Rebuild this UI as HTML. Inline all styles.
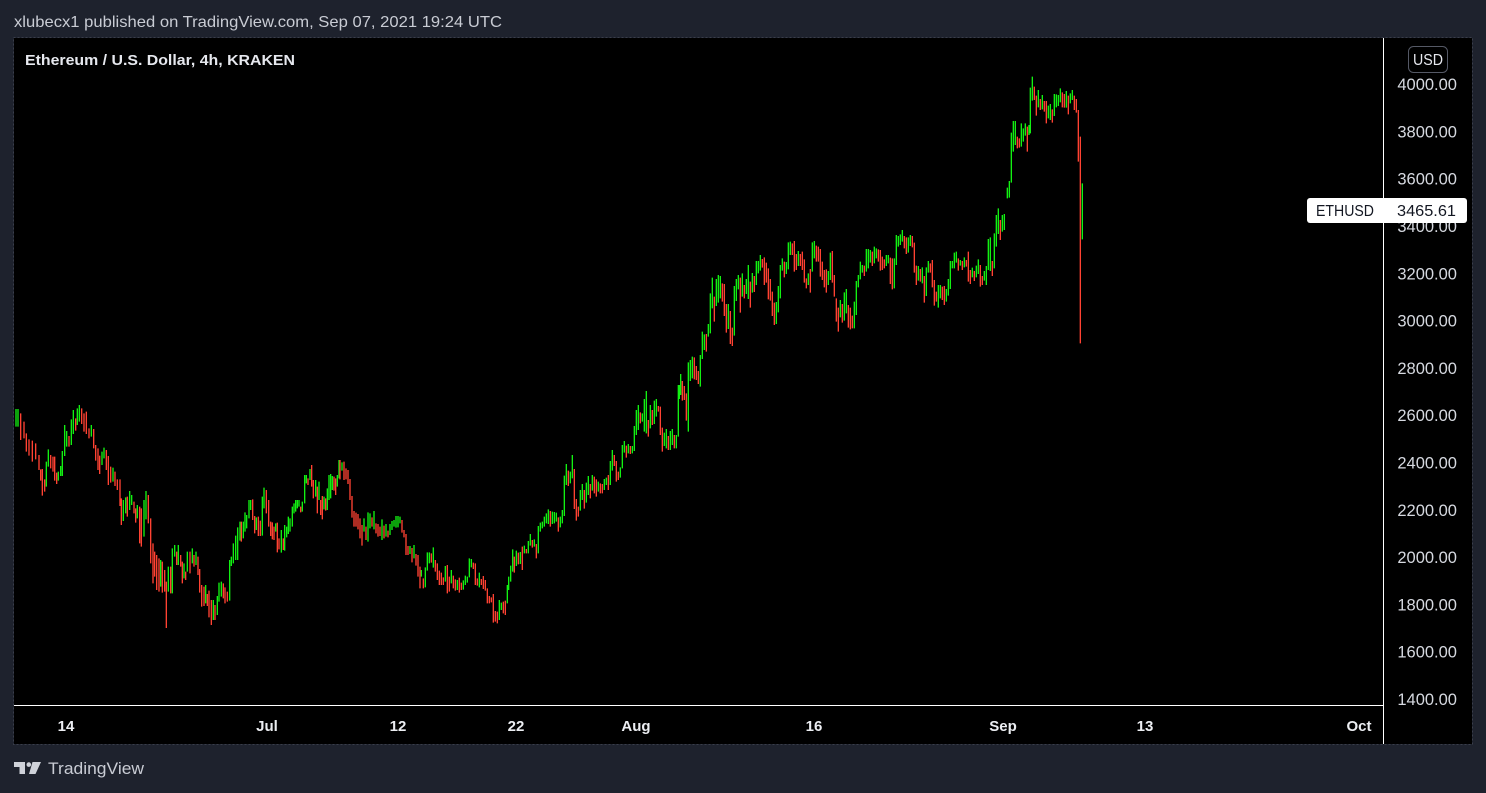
<!DOCTYPE html>
<html>
<head>
<meta charset="utf-8">
<style>
html,body{margin:0;padding:0;background:#1e222d;}
svg{display:block;}
text{font-family:"Liberation Sans",Arial,sans-serif;}
</style>
</head>
<body>
<svg id="s" width="1486" height="793" viewBox="0 0 1486 793" xmlns="http://www.w3.org/2000/svg">
  <rect x="0" y="0" width="1486" height="793" fill="#1e222d"/>
  <rect x="14" y="38" width="1458" height="706" fill="#000"/>
  <rect x="13.5" y="37.5" width="1459" height="707" fill="none" stroke="#3a3e4a" stroke-width="1" stroke-dasharray="2,2"/>

  <text x="14" y="27" font-size="16" fill="#c9ccd4" textLength="488" lengthAdjust="spacingAndGlyphs">xlubecx1 published on TradingView.com, Sep 07, 2021 19:24 UTC</text>
  <text x="25" y="65" font-size="15" font-weight="bold" fill="#e6e8ee" textLength="270" lengthAdjust="spacingAndGlyphs">Ethereum / U.S. Dollar, 4h, KRAKEN</text>

  <g id="bars">
    <path id="pg" d="" stroke="#12f012" stroke-width="1.35" fill="none"/>
    <path id="pr" d="" stroke="#ff4232" stroke-width="1.35" fill="none"/>
  </g>

  <!-- axes -->
  <line x1="1383.5" y1="38" x2="1383.5" y2="744" stroke="#ffffff" stroke-width="1"/>
  <line x1="14" y1="705.5" x2="1383" y2="705.5" stroke="#ffffff" stroke-width="1"/>

  <!-- price labels -->
  <g font-size="16.5" fill="#d6d9e0" text-anchor="end">
    <text x="1457" y="90">4000.00</text>
    <text x="1457" y="137.4">3800.00</text>
    <text x="1457" y="184.7">3600.00</text>
    <text x="1457" y="232">3400.00</text>
    <text x="1457" y="279.3">3200.00</text>
    <text x="1457" y="326.6">3000.00</text>
    <text x="1457" y="373.9">2800.00</text>
    <text x="1457" y="421.2">2600.00</text>
    <text x="1457" y="468.5">2400.00</text>
    <text x="1457" y="515.8">2200.00</text>
    <text x="1457" y="563.1">2000.00</text>
    <text x="1457" y="610.4">1800.00</text>
    <text x="1457" y="657.7">1600.00</text>
    <text x="1457" y="705">1400.00</text>
  </g>

  <!-- USD box -->
  <rect x="1408.5" y="46.5" width="39" height="26" rx="5" ry="5" fill="#000" stroke="#555966" stroke-width="1"/>
  <text x="1413" y="65" font-size="16" fill="#e6e8ee" textLength="30" lengthAdjust="spacingAndGlyphs">USD</text>

  <!-- ETHUSD label -->
  <rect x="1307" y="198" width="160" height="25" rx="3" ry="3" fill="#ffffff"/>
  <text x="1316" y="216" font-size="16" fill="#131722" textLength="58" lengthAdjust="spacingAndGlyphs">ETHUSD</text>
  <text x="1397" y="216" font-size="16" fill="#131722" textLength="59" lengthAdjust="spacingAndGlyphs">3465.61</text>

  <!-- date labels -->
  <g font-size="15" font-weight="bold" fill="#eceef2" text-anchor="middle">
    <text x="66" y="731">14</text>
    <text x="267" y="731">Jul</text>
    <text x="398" y="731">12</text>
    <text x="516" y="731">22</text>
    <text x="636" y="731">Aug</text>
    <text x="814" y="731">16</text>
    <text x="1003" y="731">Sep</text>
    <text x="1145" y="731">13</text>
    <text x="1359" y="731">Oct</text>
  </g>

  <!-- footer logo -->
  <g fill="#cfd2d9">
    <path d="M14 762 H25 V774 H19.5 V767 H14 Z"/>
    <circle cx="28.8" cy="764.6" r="2.3"/>
    <polygon points="32.5,762 41,762 35.5,774 29,774"/>
  </g>
  <text x="48" y="774" font-size="17" fill="#c9ccd4" textLength="96" lengthAdjust="spacingAndGlyphs">TradingView</text>
</svg>

<script>
(function(){
var segs=[
{ox:14,oy:390,d:"6,57,110;12,57,110;20,70,150;30,95,145;37,130,185;45,148,197;55,152,215;65,160,208;75,195,240;80,238,272;85,237,317;92,268,305;97,215,290;103,178,230;110,195,235;117,200,245;122,200,272;128,248,282;133,245,272;140,228,258;145,183,258;152,105,198;158,123,170;165,138,170;172,88,165;178,60,132;185,85,122;190,55,105;196,45,95;203,55,102;210,70,125;217,65,132;225,115,145;232,105,140;239,117,175;245,165,212;252,175,240;257,197,252;264,185,225;270,173,205;277,180,240;283,198,285;290,230,278;297,233,275;303,245,288;310,268,300;318,268,348;322,325,405;328,330,393;335,322,370;340,320,380;347,303,360;353,315,345;360,335,370;365,355,398;370,345,385;377,350,460;382,355,470;390,330,440;396,303,388;403,315,400;410,385,520;417,460,580;422,485,560;428,495,600;435,505,605;440,510,590;445,515,608;452,540,605;457,575,714;463,530,605;470,530,610;475,475,610;482,465,500;488,485,525;493,465,525;500,495,530;505,515,580;510,520,565;515,545,570;520,485,545;528,485,550;535,475,520;540,495,530;546,485,525;552,500,555;557,537,608;563,585,650;570,590,648;575,585,640;580,612,648;585,602,682;592,630,705;598,630,690;603,645,690;610,618,675;615,578,635;622,575,620;628,580,625;633,592,640;640,605,635;647,510,632;652,500,528;658,460,520;665,437,510;671,412,510;678,395,452;682,395,455;688,395,445;693,367,425;698,375,415;705,330,385;710,330,360;716,328,390;722,378,430;727,382,420;733,380,438;739,392,438;745,320,437;750,293,355;757,300,370;764,330,410;770,395,438;775,397,448;780,410,450;785,400,425;790,398,487;795,445,478;802,420,488;808,445,480;812,405,482;818,410,442;823,380,432;828,385,425;835,350,410;840,340,370;845,330,365;850,330,355;855,330,350;860,350,367;865,335,365;872,255,340;877,255,280;882,265,285;888,237,270;893,225,290;898,270,325;905,270,320;910,290,370;915,275,330;920,330,375;925,318,388;930,320,358;935,325,362;940,295,360;945,255,330;950,252,325;955,258,300;960,260,302;965,265,315;970,255,290;975,210,265"},
{ox:340,oy:380,d:"0,240,298;6,247,272;12,245,300;18,265,298;24,270,312;30,297,360;36,348,413;42,393,440;48,398,440;54,402,448;60,415,475;66,435,497;72,415,455;78,440,480;84,397,485;90,400,445;96,412,440;102,393,448;108,430,460;114,432,470;120,440,468;126,418,480;132,437,475;138,432,470;144,452,472;150,432,465;156,423,450;162,420,440;168,408,443;174,408,442;180,410,430;186,420,458;192,450,472;198,462,525;204,498,525;210,498,522;216,504,547;222,495,535;228,522,557;234,525,590;240,560,625;244,570,590;250,595,625;256,562,622;262,517,572;268,517,550;274,520,548;280,502,563;286,540,575;292,550,600;298,572,615;304,578,615;310,592,615;316,558,605;322,555,640;328,590,635;334,570,610;340,587,625;346,598,632;352,600,630;358,593,638;364,608,630;370,601,629;376,587,615;382,590,608;388,535,592;394,537,562;400,548,567;406,550,615;412,595,617;418,578,622;424,597,615;430,588,627;436,600,632;442,625,670;448,648,670;454,652,667;460,642,728;466,693,725;472,695,730;478,660,720;484,668,690;490,665,700;496,662,705;502,615,670;506,590,630;512,557,605;518,508,575;523,530,578;529,512,558;535,518,553;541,516,552;547,500,570;553,497,520;559,507,520;565,483,520;571,462,497;577,480,503;583,478,500;589,492,535;595,438,520;601,428,455;607,425,445;613,410,440;619,400,430;625,388,432;631,393,440;637,395,432;643,396,430;649,398,425;655,412,455;661,410,442;667,390,430;673,287,408;679,252,315;685,272,318;691,275,310;697,225,295;703,267,387;709,357,422;715,380,410;721,330,392;727,312,360;733,330,386;739,308,368;745,288,345;751,312,355;757,285,332;763,290,340;769,298,350;775,305,335;781,310,340;787,312,340;793,297,330;799,293,315;805,285,330;811,243,315;817,210,272;823,225,258;829,243,305;835,275,300;841,262,293;847,195,265;853,183,218;859,197,233;865,192,220;871,198,222;877,198,220;883,138,213;889,90,165;895,75,150;901,97,130;907,100,125;913,57,155;919,33,160;925,120,170;931,75,145;937,90,135;943,62,132;949,57,110;955,78,95;961,80,165;967,143,215;973,158,198;979,147,205;985,168,210;991,153,210;997,147,195;1003,165,205;1009,165,205;1015,15,170"},
{ox:670,oy:200,d:"28,555,597;32,522,585;37,543,602;43,558,600;49,580,662;55,487,695;61,480,543;67,470,535;73,472,538;79,498,540;85,513,552;91,465,560;97,395,477;103,403,450;109,402,455;115,372,410;121,280,400;127,233,325;133,290,365;139,237,318;145,225,308;151,228,295;157,250,305;163,252,348;169,312,398;175,312,387;181,333,432;187,383,438;193,258,407;199,237,303;205,225,268;211,233,338;217,220,290;223,255,295;229,237,282;235,195,297;241,245,323;247,219,278;253,228,276;259,183,255;265,183,220;271,165,212;277,177,203;283,172,255;289,188,248;295,205,298;301,237,302;307,275,348;313,308,375;319,306,372;325,258,337;331,195,295;337,175,212;343,185,232;349,186,222;355,127,208;361,125,165;367,130,165;373,123,215;379,162,210;385,153,198;391,162,198;397,155,210;403,178,248;409,235,265;415,220,255;421,207,278;427,127,215;433,123,175;439,137,185;445,140,185;451,147,230;457,185,240;463,210,262;469,208,278;475,213,255;481,158,240;487,153,248;493,225,290;499,295,365;505,323,395;511,300,352;517,312,368;523,277,362;529,267,340;535,315,383;541,323,388;547,347,385;553,305,385;559,243,345;565,225,262;571,185,238;577,195,218;583,197,228;589,147,215;595,147,205;601,150,188;607,155,198;613,140,190;619,145,175;625,148,185;631,150,212;637,170,210;643,178,205;649,165,198;655,165,190;661,173,252;667,175,268;673,175,265;679,105,195;685,108,140;691,103,135;697,90,125;703,108,145;709,112,162;715,112,158;721,105,138;727,108,142;733,128,218;739,197,255;745,198,242;751,207,245;757,202,250;763,228,308;769,202,288;775,183,218;781,190,218;787,180,262;793,240,317;799,275,305;805,255,323;811,255,295;817,260,300;823,258,315;829,267,305;835,237,287;841,183,267;847,183,205;853,158,205;859,155,188;865,175,212;871,180,197;877,183,210;883,172,202;889,180,200;895,155,245;901,210,252;907,203,232;913,213,243;919,197,232;925,178,222;931,195,260;937,228,255;943,213,242;949,198,255;955,117,210;961,112,213;967,183,228;973,100,205;979,45,140;985,25,102;991,60,120;997,45,95;1003,42,90"},
{ox:990,oy:70,d:"52,353,385;58,333,383;64,188,338;70,153,245;76,153,225;82,200,235;88,205,233;94,160,230;100,175,215;106,160,197;112,170,245;117,165,195;121,53,190;127,20,92;133,50,90;139,77,137;145,60,112;151,87,120;157,75,118;163,93,125;169,93,160;175,107,145;181,102,150;187,118,158;193,72,138;199,73,112;205,75,108;211,55,97;217,67,112;223,72,113;229,63,113;235,77,133;241,70,100;247,60,90;253,77,120;259,87,128;265,120,275;271,200,820;277,340,508"}
];
var bars=[];
segs.forEach(function(s){
  s.d.split(";").forEach(function(t){
    var a=t.split(",").map(Number);
    if(a.length<3||isNaN(a[0]))return;
    bars.push([s.ox+a[0]/3, s.oy+a[1]/3, s.oy+a[2]/3]);
  });
});
bars.sort(function(p,q){return p[0]-q[0];});
var g="",r="",prev=null;
for(var i=0;i<bars.length;i++){
  var b=bars[i];
  var m=(b[1]+b[2])/2;
  var up=(prev===null)?true:(m<=prev);
  prev=m;
  var seg="M"+b[0].toFixed(2)+" "+b[1].toFixed(2)+"V"+b[2].toFixed(2);
  if(up)g+=seg;else r+=seg;
}
document.getElementById("pg").setAttribute("d",g);
document.getElementById("pr").setAttribute("d",r);
})();
</script>
</body>
</html>
